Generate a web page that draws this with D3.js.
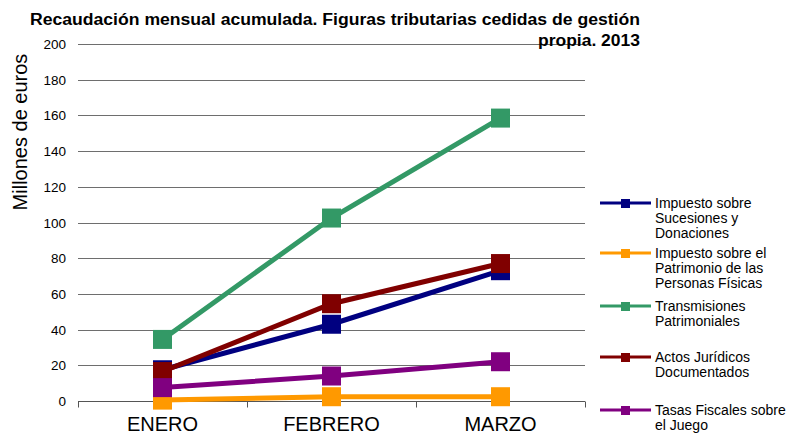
<!DOCTYPE html>
<html lang="es">
<head>
<meta charset="UTF-8">
<title>Recaudación mensual acumulada</title>
<script src="https://cdnjs.cloudflare.com/ajax/libs/d3/7.8.5/d3.min.js"></script>
<style>
  body { margin: 0; background: #fff; }
  svg { display: block; font-family: "Liberation Sans", Arial, sans-serif; }
</style>
</head>
<body>
<svg id="chart" width="787" height="433"></svg>
<script>
// data
const months = ["ENERO", "FEBRERO", "MARZO"];
const seriesNames = [
  ["Impuesto sobre", "Sucesiones y", "Donaciones"],
  ["Impuesto sobre el", "Patrimonio de las", "Personas Físicas"],
  ["Transmisiones", "Patrimoniales"],
  ["Actos Jurídicos", "Documentados"],
  ["Tasas Fiscales sobre", "el Juego"]
];
const sucesiones = [17.5, 43, 73];
const patrimonio = [0.5, 2.4, 2.4];
const transmisiones = [34.5, 102.5, 158.5];
const actos = [16.5, 54.5, 77];
const tasas = [7.5, 14, 22];
const yTicks = [0, 20, 40, 60, 80, 100, 120, 140, 160, 180, 200];
const colors = ["#000080", "#ff9900", "#339966", "#800000", "#800080"];

const allSeries = [sucesiones, patrimonio, transmisiones, actos, tasas];
const svg = d3.select("#chart");

const x = d3.scaleBand().domain(months).range([78, 585]);
const y = d3.scaleLinear().domain([0, 200]).range([401, 44]);

// gridlines
svg.append("g")
  .selectAll("line")
  .data(yTicks.filter(d => d > 0))
  .enter()
  .append("line")
  .attr("x1", 78).attr("x2", 585)
  .attr("y1", d => Math.round(y(d)) + 0.5)
  .attr("y2", d => Math.round(y(d)) + 0.5)
  .attr("stroke", "#6e6e6e")
  .attr("stroke-width", 1);

// y axis labels
svg.append("g")
  .selectAll("text")
  .data(yTicks)
  .enter()
  .append("text")
  .attr("x", 66)
  .attr("y", d => y(d) + 5)
  .attr("text-anchor", "end")
  .attr("font-size", 13.5)
  .attr("fill", "#000")
  .text(d => d);

// x axis
const xAxis = svg.append("g").attr("transform", "translate(0," + (Math.round(y(0)) + 0.5) + ")");
xAxis.append("line")
  .attr("x1", 78).attr("x2", 585)
  .attr("stroke", "#555");
xAxis.selectAll("line.tick")
  .data([78, 247, 416, 585])
  .enter()
  .append("line")
  .attr("class", "tick")
  .attr("x1", d => d + 0.5).attr("x2", d => d + 0.5)
  .attr("y1", 0).attr("y2", 6)
  .attr("stroke", "#555");
xAxis.selectAll("text")
  .data(months)
  .enter()
  .append("text")
  .attr("x", d => x(d) + x.bandwidth() / 2)
  .attr("y", 29)
  .attr("text-anchor", "middle")
  .attr("font-size", 20)
  .text(d => d);

// series lines + markers
const line = d3.line()
  .x((d, i) => x(months[i]) + x.bandwidth() / 2)
  .y(d => y(d));

allSeries.forEach((vals, k) => {
  const g = svg.append("g");
  g.append("path")
    .attr("d", line(vals))
    .attr("fill", "none")
    .attr("stroke", colors[k])
    .attr("stroke-width", 5);
  g.selectAll("rect")
    .data(vals)
    .enter()
    .append("rect")
    .attr("x", (d, i) => x(months[i]) + x.bandwidth() / 2 - 9.5)
    .attr("y", d => y(d) - 9.5)
    .attr("width", 19)
    .attr("height", 19)
    .attr("fill", colors[k]);
});

// y label
svg.append("text")
  .attr("transform", "translate(27,132) rotate(-90)")
  .attr("text-anchor", "middle")
  .attr("font-size", 20)
  .text("Millones de euros");

// title
const title = svg.append("text")
  .attr("text-anchor", "end")
  .attr("font-size", 16)
  .attr("font-weight", "bold");
title.append("tspan").attr("x", 640).attr("y", 25)
  .attr("textLength", 610).attr("lengthAdjust", "spacingAndGlyphs")
  .text("Recaudación mensual acumulada. Figuras tributarias cedidas de gestión");
title.append("tspan").attr("x", 640).attr("y", 46)
  .attr("textLength", 102).attr("lengthAdjust", "spacingAndGlyphs")
  .text("propia. 2013");

// legend
const legendY = [203, 253, 306, 357, 410];
seriesNames.forEach((lines, k) => {
  const g = svg.append("g").attr("transform", "translate(600," + legendY[k] + ")");
  g.append("line")
    .attr("x1", 0).attr("x2", 51)
    .attr("stroke", colors[k]).attr("stroke-width", 3);
  g.append("rect")
    .attr("x", 21).attr("y", -4).attr("width", 9).attr("height", 9)
    .attr("fill", colors[k]);
  const t = g.append("text").attr("font-size", 14);
  lines.forEach((s, j) => {
    t.append("tspan").attr("x", 55).attr("y", 5 + j * 15).text(s);
  });
});
</script>
</body>
</html>
